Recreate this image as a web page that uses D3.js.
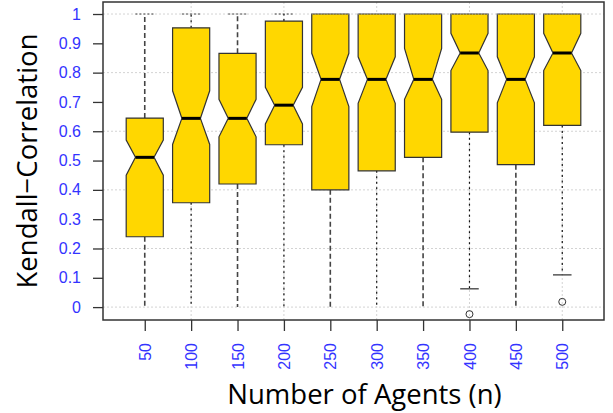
<!DOCTYPE html>
<html>
<head>
<meta charset="utf-8">
<script src="https://cdn.jsdelivr.net/npm/d3@7"></script>
<style>
  body { margin: 0; background: #fff; }
  svg { display: block; }
</style>
</head>
<body>
<svg id="chart" width="613" height="413"></svg>
<script>
// values
const agents = [50, 100, 150, 200, 250, 300, 350, 400, 450, 500]
const lowWhisker = [0, 0, 0, 0, 0, 0, 0, 0.0625, 0, 0.11]
const q1 = [0.24, 0.356, 0.42, 0.554, 0.4, 0.465, 0.511, 0.597, 0.486, 0.62]
const medians = [0.511, 0.644, 0.644, 0.689, 0.777, 0.777, 0.777, 0.867, 0.777, 0.867]
const q3 = [0.645, 0.953, 0.866, 0.976, 1, 1, 1, 1, 1, 1]
const highWhisker = [1, 1, 1, 1, 1, 1, 1, 1, 1, 1]
const notchLo = [0.45, 0.555, 0.581, 0.625, 0.684, 0.695, 0.709, 0.807, 0.697, 0.807]
const notchHi = [0.57, 0.738, 0.709, 0.75, 0.866, 0.854, 0.883, 0.934, 0.854, 0.934]
const outliers = [[], [], [], [], [], [], [], [-0.024], [], [0.018]]
const yTicks = [0, 0.1, 0.2, 0.3, 0.4, 0.5, 0.6, 0.7, 0.8, 0.9, 1]
const yGrid = [0, 0.2, 0.4, 0.6, 0.8, 1]
const xGrid = [2, 4, 6, 8, 10]

const svg = d3.select('#chart')
const pL = 103, pR = 604, pT = 2, pB = 320

const x = d3.scaleLinear().domain([0.1, 10.9]).range([pL, pR])
const y = d3.scaleLinear().domain([-0.044, 1.041]).range([pB, pT])

const boxHalf = x(1.4) - x(1)
const fill = '#FFD700'

// grid first, under the boxes
const grid = svg.append('g')
    .attr('stroke', '#d3d3d3')
    .attr('stroke-dasharray', '2,2')
grid.selectAll('.hg')
    .data(yGrid)
    .enter()
    .append('line')
    .attr('x1', pL)
    .attr('x2', pR)
    .attr('y1', d => y(d))
    .attr('y2', d => y(d))
grid.selectAll('.vg')
    .data(xGrid)
    .enter()
    .append('line')
    .attr('x1', d => x(d))
    .attr('x2', d => x(d))
    .attr('y1', pT)
    .attr('y2', pB)

const boxes = agents.map((a, i) => ({
    i,
    lw: lowWhisker[i],
    q1: q1[i],
    med: medians[i],
    q3: q3[i],
    hw: highWhisker[i],
    nlo: notchLo[i],
    nhi: notchHi[i],
    out: outliers[i]
}))

const g = svg.append('g')
const box = g.selectAll('.box')
    .data(boxes)
    .enter()
    .append('g')
    .attr('transform', d => 'translate(' + x(d.i + 1) + ',0)')

// whiskers, alternating dash styles like the original
const whisk = sel =>
    sel.attr('stroke', d => (d.i % 2 ? '#111' : '#444'))
        .attr('stroke-width', d => (d.i % 2 ? 1.2 : 1.6))
        .attr('stroke-dasharray', d => (d.i % 2 ? '2,3.5' : '5,3'))
box.append('line')
    .attr('y1', d => y(d.q1))
    .attr('y2', d => y(d.lw))
    .call(whisk)
box.append('line')
    .attr('y1', d => y(d.q3))
    .attr('y2', d => y(d.hw))
    .call(whisk)

// staples (bottom ones hidden behind the frame at 0)
box.filter(d => d.lw > 0)
    .append('line')
    .attr('x1', -boxHalf / 2)
    .attr('x2', boxHalf / 2)
    .attr('y1', d => y(d.lw))
    .attr('y2', d => y(d.lw))
    .attr('stroke', '#555')
    .attr('stroke-width', 1.5)
box.filter(d => d.hw > d.q3)
    .append('line')
    .attr('x1', -boxHalf / 2)
    .attr('x2', boxHalf / 2)
    .attr('y1', d => y(d.hw))
    .attr('y2', d => y(d.hw))
    .attr('stroke', '#444')
    .attr('stroke-dasharray', '2,2')

const notchPath = d => {
    const w = boxHalf, n = boxHalf / 2
    const pts = [
        [-w, y(d.q1)], [-w, y(d.nlo)], [-n, y(d.med)], [-w, y(d.nhi)], [-w, y(d.q3)],
        [w, y(d.q3)], [w, y(d.nhi)], [n, y(d.med)], [w, y(d.nlo)], [w, y(d.q1)]
    ]
    return d3.line()(pts) + 'Z'
}
box.append('path')
    .attr('d', notchPath)
    .attr('fill', fill)
    .attr('stroke', '#333')
    .attr('stroke-width', 1.2)
// box tops sitting on 1.0 look dotted in the original
box.filter(d => d.q3 >= 1)
    .append('line')
    .attr('x1', -boxHalf)
    .attr('x2', boxHalf)
    .attr('y1', d => y(d.q3))
    .attr('y2', d => y(d.q3))
    .attr('stroke', '#bbb')
    .attr('stroke-dasharray', '1,2')
    .attr('stroke-width', 1.2)

box.append('line')
    .attr('x1', -boxHalf / 2)
    .attr('x2', boxHalf / 2)
    .attr('y1', d => y(d.med))
    .attr('y2', d => y(d.med))
    .attr('stroke', '#000')
    .attr('stroke-width', 3)

box.selectAll('.out')
    .data(d => d.out)
    .enter()
    .append('circle')
    .attr('cy', d => y(d))
    .attr('r', 3.5)
    .attr('fill', 'none')
    .attr('stroke', '#333')

// frame
svg.append('rect')
    .attr('x', pL)
    .attr('y', pT)
    .attr('width', pR - pL)
    .attr('height', pB - pT)
    .attr('fill', 'none')
    .attr('stroke', '#333')
    .attr('stroke-width', 1.5)

// axes
const yAxis = d3.axisLeft(y)
    .tickValues(yTicks)
    .tickSize(10)
    .tickPadding(12)
    .tickFormat(d => String(+d.toFixed(1)))
const ya = svg.append('g')
    .attr('transform', 'translate(' + pL + ',0)')
    .call(yAxis)
ya.select('.domain').remove()
ya.selectAll('line').attr('stroke', '#333').attr('stroke-width', 1.3)
ya.selectAll('text')
    .attr('fill', '#3333ff')
    .style('font', '16px "Liberation Sans", Arial, sans-serif')

const xAxis = d3.axisBottom(x)
    .tickValues(d3.range(1, agents.length + 1))
    .tickSize(11)
    .tickFormat(d => agents[d - 1])
const xa = svg.append('g')
    .attr('transform', 'translate(0,' + pB + ')')
    .call(xAxis)
xa.select('.domain').remove()
xa.selectAll('line').attr('stroke', '#333').attr('stroke-width', 1.3)
xa.selectAll('text')
    .attr('fill', '#3333ff')
    .attr('transform', 'rotate(-90)')
    .attr('x', -23)
    .attr('y', 0)
    .attr('dy', '0.35em')
    .attr('text-anchor', 'end')
    .style('font', '16px "Liberation Sans", Arial, sans-serif')

svg.append('text')
    .attr('x', (pL + pR) / 2 + 11)
    .attr('y', 404)
    .attr('text-anchor', 'middle')
    .style('font', '27.5px "Open Sans", sans-serif')
    .text('Number of Agents (n)')

svg.append('text')
    .attr('transform', 'translate(37,' + (pT + pB) / 2 + ') rotate(-90)')
    .attr('text-anchor', 'middle')
    .style('font', '27.5px "Open Sans", sans-serif')
    .text('Kendall\u2212Correlation')
</script>
</body>
</html>
